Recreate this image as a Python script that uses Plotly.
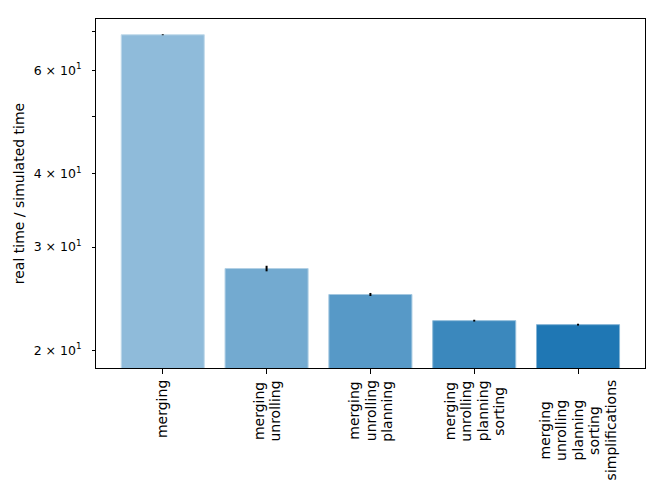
import plotly.graph_objects as go
import numpy as np

category_lines = [
    ["merging"],
    ["merging", "unrolling"],
    ["merging", "unrolling", "planning"],
    ["merging", "unrolling", "planning", "sorting"],
    ["merging", "unrolling", "planning", "sorting", "simplifications"],
]
values = [69.0, 27.57, 24.90, 22.47, 22.12]
errors = [0.12, 0.30, 0.15, 0.08, 0.08]
alphas = [0.5, 0.625, 0.75, 0.875, 1.0]

y_tick_vals = [20, 30, 40, 60]
y_tick_text = ["2 × 10<sup>1</sup>", "3 × 10<sup>1</sup>", "4 × 10<sup>1</sup>", "6 × 10<sup>1</sup>"]
y_minor_vals = [50, 70]

base = (31, 119, 180)
FONT = "DejaVu Sans"
LABEL_SIZE = 14
LINE_STEP = 16.5  # px between stacked label lines

# approximate DejaVu Sans advance widths (em) for layout of centred lines
W = {"m": .974, "e": .615, "r": .411, "g": .635, "i": .278, "n": .634, "u": .634,
     "o": .612, "l": .278, "p": .635, "a": .613, "s": .521, "t": .392, "f": .352, "c": .550}


def text_len(s):
    return sum(W.get(ch, 0.6) for ch in s) * LABEL_SIZE


def blend(a):
    return "rgb({},{},{})".format(*[round(255 - a * (255 - c)) for c in base])


fill = [blend(a) for a in alphas]
edge = [blend(a * 0.55) for a in alphas]
x = list(range(len(category_lines)))

fig = go.Figure(
    go.Bar(
        x=x,
        y=values,
        width=0.8,
        marker=dict(color=fill, line=dict(color=edge, width=1)),
        error_y=dict(type="data", array=errors, color="black", thickness=2, width=0),
    )
)

for xi, lines in zip(x, category_lines):
    n = len(lines)
    block = max(text_len(s) for s in lines)
    for j, line in enumerate(lines):
        fig.add_annotation(
            x=xi,
            y=0,
            xref="x",
            yref="paper",
            text=line,
            textangle=-90,
            xanchor="center",
            yanchor="middle",
            xshift=(j - (n - 1) / 2) * LINE_STEP,
            yshift=-(12 + block / 2),
            showarrow=False,
            font=dict(family=FONT, size=LABEL_SIZE, color="black"),
        )

# page body adds an 8px margin around the figure
fig.update_layout(
    width=648,
    height=482,
    margin=dict(l=88, r=11, t=11, b=122),
    plot_bgcolor="white",
    paper_bgcolor="white",
    font=dict(family=FONT, size=14, color="black"),
    showlegend=False,
)

fig.update_xaxes(
    range=[-0.643, 4.645],
    tickmode="array",
    tickvals=x,
    showticklabels=False,
    ticks="outside",
    ticklen=5,
    tickwidth=1,
    tickcolor="black",
    showline=True,
    linecolor="black",
    linewidth=1,
    mirror=True,
    showgrid=False,
    zeroline=False,
    automargin=False,
)

fig.update_yaxes(
    type="log",
    range=[np.log10(18.66), np.log10(73.4)],
    tickmode="array",
    tickvals=y_tick_vals,
    ticktext=y_tick_text,
    tickfont=dict(family=FONT, size=12.5, color="black"),
    ticklabelstandoff=8,
    ticks="outside",
    ticklen=3,
    tickwidth=1,
    tickcolor="black",
    minor=dict(tickmode="array", tickvals=y_minor_vals, ticks="outside", ticklen=3, tickwidth=1, tickcolor="black", showgrid=False),
    showline=True,
    linecolor="black",
    linewidth=1,
    mirror=True,
    showgrid=False,
    zeroline=False,
    automargin=False,
    title=dict(text="real time / simulated time", standoff=5, font=dict(family=FONT, size=14, color="black")),
)

fig.write_html("out.html")
